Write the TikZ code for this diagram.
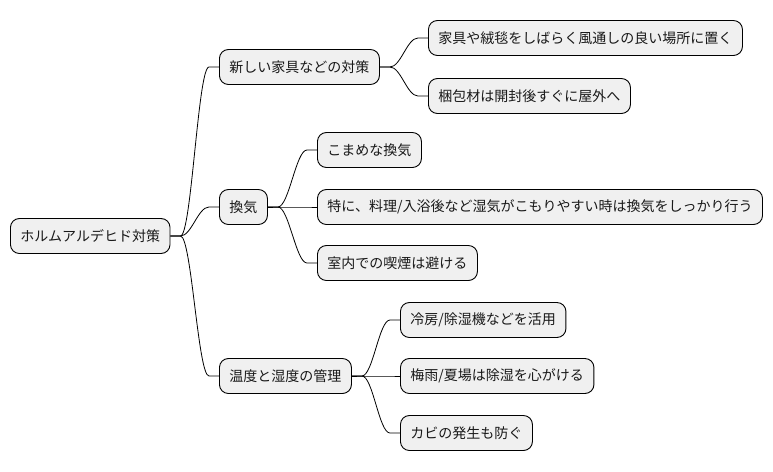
\documentclass[tikz,border=0pt]{standalone}
\usepackage{fontspec}
\setmainfont{Noto Sans CJK JP}
\usetikzlibrary{calc}
\tikzset{
  mmbox/.style={draw=black, fill=black!6, line width=0.9pt, rounded corners=9pt,
    inner xsep=10pt, inner ysep=0pt, minimum height=35pt, anchor=west,
    font=\fontsize{14pt}{16pt}\selectfont, text=black!90},
  link/.style={draw=black, line width=0.8pt}
}
\newcommand{\mmlink}[2]{%
  \draw[link] (#1.east) -- ++(10,0) .. controls +(11,0) and +(-11,0) .. ($(#2.west)+(-10,0)$) -- (#2.west);}
\begin{document}
\begin{tikzpicture}[x=1pt,y=1pt]
\useasboundingbox (0,0) rectangle (773,-471);
\node[mmbox] (root) at (10,-236) {ホルムアルデヒド対策};
\node[mmbox] (a) at (219,-67) {新しい家具などの対策};
\node[mmbox] (b) at (219,-207) {換気};
\node[mmbox] (c) at (219,-376) {温度と湿度の管理};
\node[mmbox] (a1) at (428,-38) {家具や絨毯をしばらく風通しの良い場所に置く};
\node[mmbox] (a2) at (428,-96) {梱包材は開封後すぐに屋外へ};
\node[mmbox] (b1) at (317,-150) {こまめな換気};
\node[mmbox] (b2) at (317,-207) {特に、料理/入浴後など湿気がこもりやすい時は換気をしっかり行う};
\node[mmbox] (b3) at (317,-263) {室内での喫煙は避ける};
\node[mmbox] (c1) at (400,-320) {冷房/除湿機などを活用};
\node[mmbox] (c2) at (400,-376) {梅雨/夏場は除湿を心がける};
\node[mmbox] (c3) at (400,-433) {カビの発生も防ぐ};
\mmlink{root}{a}
\mmlink{root}{b}
\mmlink{root}{c}
\mmlink{a}{a1}
\mmlink{a}{a2}
\mmlink{b}{b1}
\mmlink{b}{b2}
\mmlink{b}{b3}
\mmlink{c}{c1}
\mmlink{c}{c2}
\mmlink{c}{c3}
\end{tikzpicture}
\end{document}
